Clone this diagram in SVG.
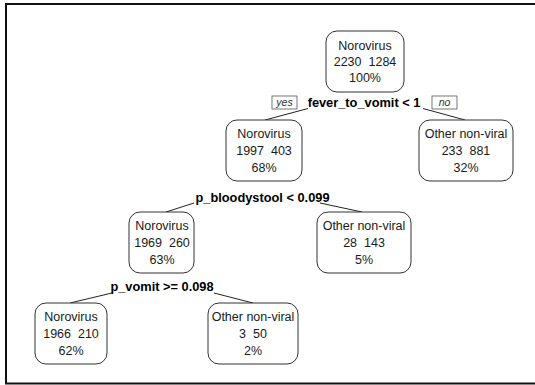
<svg xmlns="http://www.w3.org/2000/svg" width="535" height="385" viewBox="0 0 535 385">
<style>
.box{fill:#fff;stroke:#333;stroke-width:1}
.t{font-family:"Liberation Sans",Arial,sans-serif;font-size:12.5px;fill:#1a1a1a;text-anchor:middle;white-space:pre}
.s{font-family:"Liberation Sans",Arial,sans-serif;font-size:12.8px;font-weight:bold;fill:#000;text-anchor:middle}
.yn{fill:#fff;stroke:#555;stroke-width:0.8}
.ynt{font-family:"Liberation Sans",Arial,sans-serif;font-size:10.5px;font-style:italic;fill:#333;text-anchor:middle}
.c{stroke:#222;stroke-width:1;fill:none}
</style>
<rect x="0" y="0" width="535" height="385" fill="#fff"/>
<path d="M536 4 H6 V383.5 H536" fill="none" stroke="#111" stroke-width="2"/>
<g id="connectors">
<line class="c" x1="308" y1="108.5" x2="265" y2="120"/>
<line class="c" x1="423" y1="108.5" x2="465" y2="120"/>
<line class="c" x1="194" y1="203" x2="166" y2="212"/>
<line class="c" x1="320" y1="203" x2="362" y2="212"/>
<line class="c" x1="112" y1="293" x2="70" y2="303"/>
<line class="c" x1="214" y1="293" x2="253" y2="303"/>
</g>
<g id="split1">
<text class="s" x="364" y="107">fever_to_vomit &lt; 1</text>
<rect class="yn" x="272" y="96" width="25" height="13"/>
<text class="ynt" x="284.5" y="106">yes</text>
<rect class="yn" x="432" y="96" width="25" height="13"/>
<text class="ynt" x="444.5" y="106">no</text>
</g>
<g id="split2"><text class="s" x="262.5" y="202">p_bloodystool &lt; 0.099</text></g>
<g id="split3"><text class="s" x="162" y="291">p_vomit &gt;= 0.098</text></g>
<g id="n1">
<rect class="box" x="326" y="31" width="78" height="61" rx="11"/>
<text class="t" x="365" y="50">Norovirus</text>
<text class="t" x="365" y="66" xml:space="preserve">2230  1284</text>
<text class="t" x="365" y="82">100%</text>
</g>
<g id="n2">
<rect class="box" x="226" y="120" width="76" height="61" rx="11"/>
<text class="t" x="264" y="138">Norovirus</text>
<text class="t" x="264" y="155" xml:space="preserve">1997  403</text>
<text class="t" x="264" y="172">68%</text>
</g>
<g id="n3">
<rect class="box" x="419" y="120" width="94" height="61" rx="11"/>
<text class="t" x="466" y="138">Other non-viral</text>
<text class="t" x="466" y="155" xml:space="preserve">233  881</text>
<text class="t" x="466" y="172">32%</text>
</g>
<g id="n4">
<rect class="box" x="129" y="212" width="65" height="61" rx="11"/>
<text class="t" x="162" y="230">Norovirus</text>
<text class="t" x="162" y="247" xml:space="preserve">1969  260</text>
<text class="t" x="162" y="264">63%</text>
</g>
<g id="n5">
<rect class="box" x="317" y="212" width="94" height="61" rx="11"/>
<text class="t" x="364" y="230">Other non-viral</text>
<text class="t" x="364" y="247" xml:space="preserve">28  143</text>
<text class="t" x="364" y="264">5%</text>
</g>
<g id="n6">
<rect class="box" x="35" y="303" width="72" height="61" rx="11"/>
<text class="t" x="71" y="321">Norovirus</text>
<text class="t" x="71" y="338" xml:space="preserve">1966  210</text>
<text class="t" x="71" y="355">62%</text>
</g>
<g id="n7">
<rect class="box" x="208" y="303" width="90" height="61" rx="11"/>
<text class="t" x="253" y="321">Other non-viral</text>
<text class="t" x="253" y="338" xml:space="preserve">3  50</text>
<text class="t" x="253" y="355">2%</text>
</g>
</svg>
